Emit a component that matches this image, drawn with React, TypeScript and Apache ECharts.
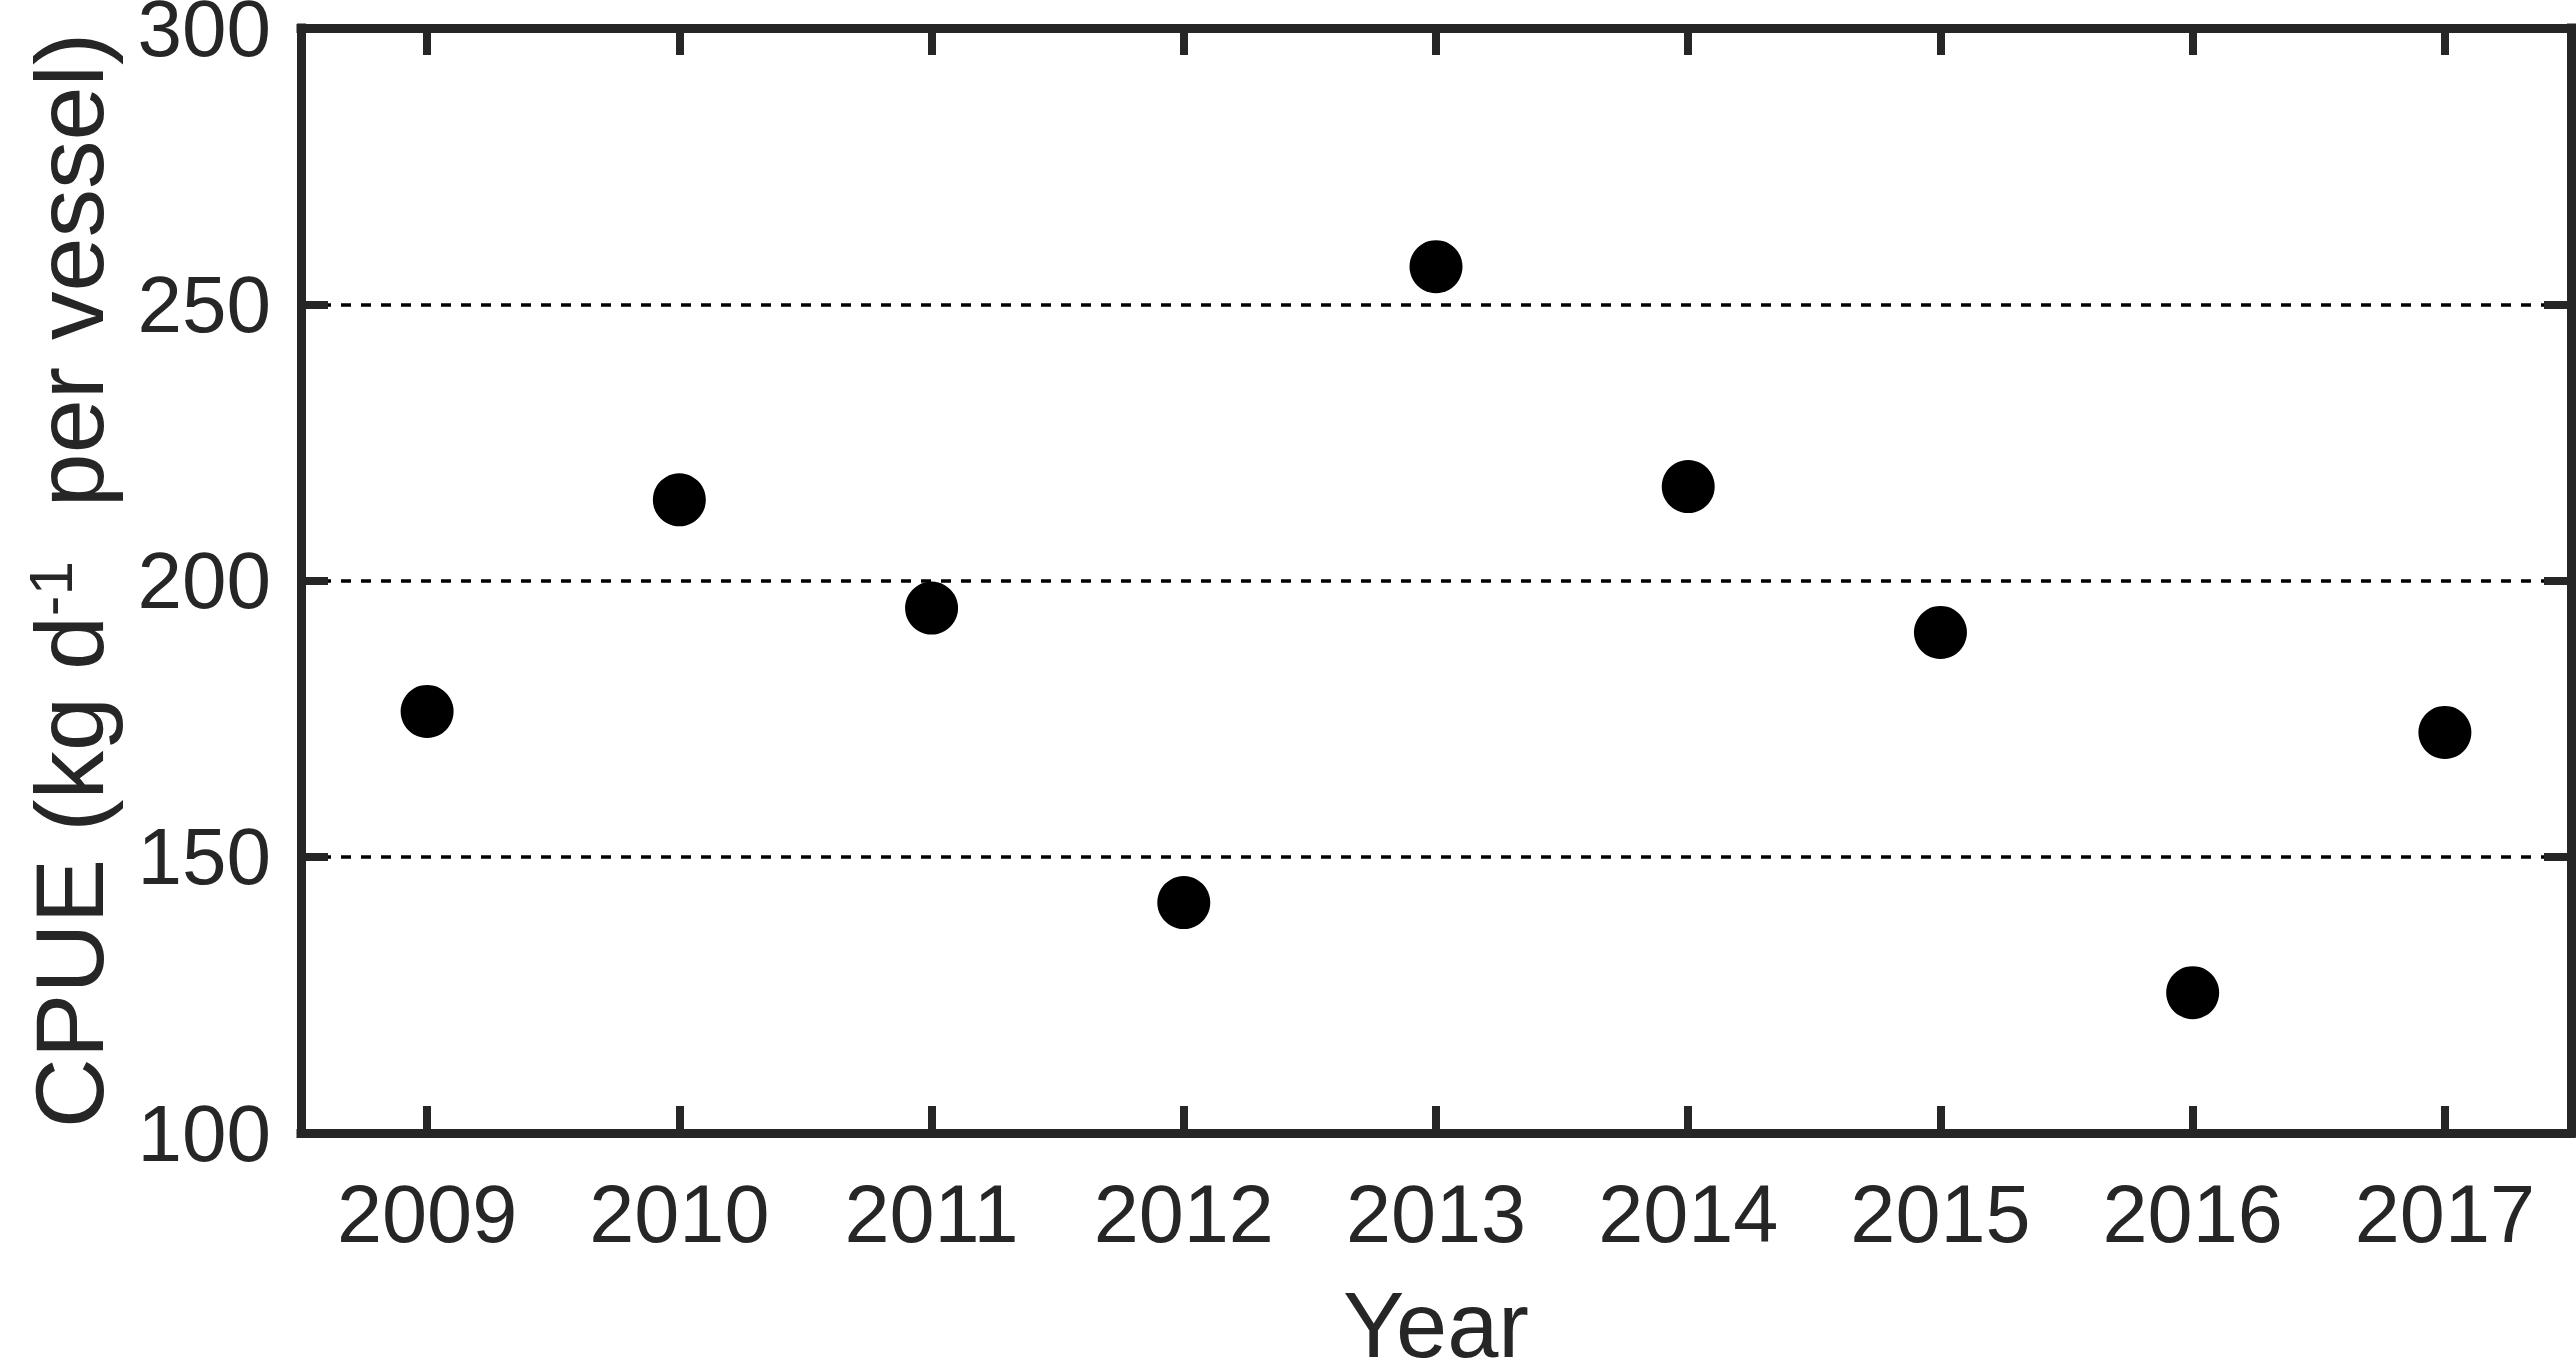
import React, { useEffect, useRef } from "react";
import * as echarts from "echarts";

const years = ["2009", "2010", "2011", "2012", "2013", "2014", "2015", "2016", "2017"];
const cpue = [176.3, 214.6, 195.0, 141.7, 256.8, 217.0, 190.6, 125.4, 172.5];
const yMin = 100;
const yMax = 300;
const yStep = 50;

const FONT = "'Liberation Sans', Arial, Helvetica, sans-serif";
const INK = "#262626";

export default function App() {
  const ref = useRef<HTMLDivElement>(null);
  useEffect(() => {
    document.body.style.margin = "0";
    document.body.style.overflow = "hidden";
    if (!ref.current) return;
    const chart = echarts.init(ref.current, null, { renderer: "svg" });
    const axisLine = { show: true, lineStyle: { color: INK, width: 9, cap: "square" } };
    const tickStyle = { show: true, inside: true, length: 27, lineStyle: { color: INK, width: 8 } };
    chart.setOption({
      animation: false,
      backgroundColor: "#ffffff",
      grid: { left: 301, right: 5, top: 28, bottom: 229, containLabel: false, outerBoundsMode: "none" },
      xAxis: [
        {
          type: "category",
          data: years,
          boundaryGap: true,
          position: "bottom",
          axisLine,
          axisTick: { ...tickStyle, alignWithLabel: true },
          axisLabel: { color: INK, fontSize: 81, fontFamily: FONT, margin: 40 },
          splitLine: { show: false },
          name: "Year",
          nameLocation: "middle",
          nameGap: 160,
          nameTextStyle: { color: INK, fontSize: 92, fontFamily: FONT, lineHeight: 64 },
        },
        {
          type: "category",
          data: years,
          boundaryGap: true,
          position: "top",
          axisLine,
          axisTick: { ...tickStyle, alignWithLabel: true },
          axisLabel: { show: false },
          splitLine: { show: false },
        },
      ],
      yAxis: [
        {
          type: "value",
          min: yMin,
          max: yMax,
          interval: yStep,
          position: "left",
          axisLine,
          axisTick: tickStyle,
          axisLabel: {
            color: INK,
            fontSize: 80,
            fontFamily: FONT,
            margin: 30,
            lineHeight: 56,
            padding: [12, 0, 0, 0],
          },
          splitLine: { show: true, lineStyle: { color: "#000", width: 3.5, type: [10, 10] } },
          name: "{n|CPUE (kg d}{s|-1}{n|  per vessel)}",
          nameLocation: "middle",
          nameRotate: 90,
          nameGap: 182,
          nameTextStyle: {
            color: INK,
            fontFamily: FONT,
            rich: {
              n: { fontSize: 97, fontFamily: FONT, color: INK, lineHeight: 100 },
              s: { fontSize: 62, fontFamily: FONT, color: INK, lineHeight: 35, verticalAlign: "top" },
            },
          },
        },
        {
          type: "value",
          min: yMin,
          max: yMax,
          interval: yStep,
          position: "right",
          axisLine,
          axisTick: tickStyle,
          axisLabel: { show: false },
          splitLine: { show: false },
        },
      ],
      series: [
        {
          type: "scatter",
          xAxisIndex: 0,
          yAxisIndex: 0,
          data: cpue,
          symbol: "circle",
          symbolSize: 53,
          itemStyle: { color: "#000000", opacity: 1 },
          z: 5,
        },
      ],
    });
    return () => chart.dispose();
  }, []);
  return <div ref={ref} style={{ width: 2576, height: 1362 }} />;
}
